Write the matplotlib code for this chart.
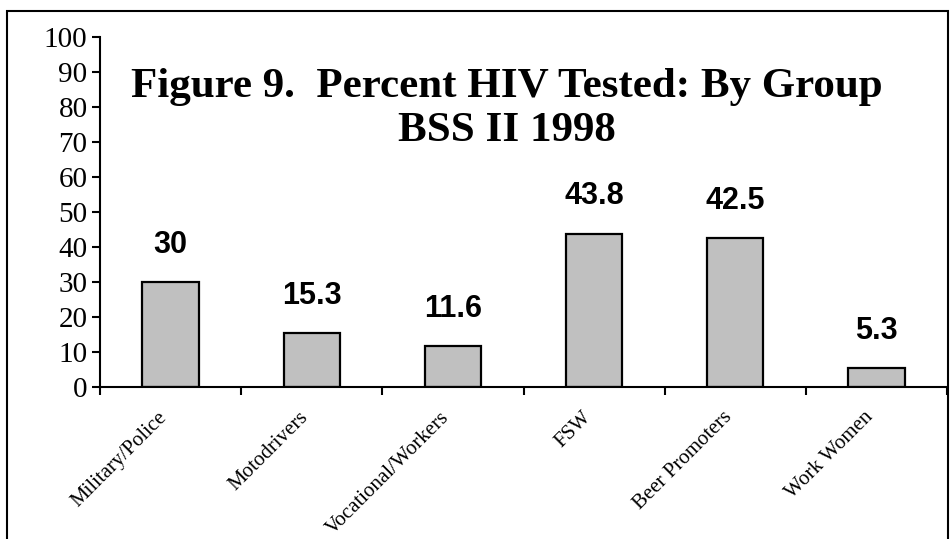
import numpy as np
import matplotlib
matplotlib.use("Agg")
import matplotlib.pyplot as plt
from matplotlib.patches import Rectangle

# data
groups = ["Military/Police", "Motodrivers", "Vocational/Workers",
          "FSW", "Beer Promoters", "Work Women"]
pctTested = [30, 15.3, 11.6, 43.8, 42.5, 5.3]
valueLabels = ["30", "15.3", "11.6", "43.8", "42.5", "5.3"]
yTicks = np.arange(0, 101, 10)

serif = ["Liberation Serif", "DejaVu Serif"]
sans = ["Liberation Sans", "DejaVu Sans"]

fig = plt.figure(figsize=(9.51, 5.39), dpi=100)
# outer chart border (open at the bottom, like the reference crop)
fig.patches.append(Rectangle((7/951, -0.05), 941/951, 1.05 - 11/539,
                             transform=fig.transFigure, fill=False,
                             edgecolor="black", linewidth=1.5))
ax = fig.add_axes([100/951, 1 - 387/539, 847/951, 350/539])

x = np.arange(len(groups)) + 0.5
ax.bar(x, pctTested, width=0.4, color="#C0C0C0", edgecolor="black",
       linewidth=1.6, zorder=2)
for xi, yi, lab in zip(x, pctTested, valueLabels):
    ax.annotate(lab, (xi, yi), xytext=(0, 16), textcoords="offset points",
                ha="center", va="bottom", fontsize=22, fontweight="bold",
                family=sans)

ax.set_xlim(0, len(groups))
ax.set_ylim(0, 100)
ax.set_yticks(yTicks)
ax.set_yticklabels([str(t) for t in yTicks], family=serif, fontsize=21)
ax.set_xticks(np.arange(len(groups) + 1))
ax.set_xticklabels([])
# slanted labels sit a little left of the bar centres in the reference
ax.set_xticks(x - 0.09, minor=True)
ax.set_xticklabels(groups, minor=True, rotation=45, ha="right",
                   rotation_mode="anchor", family=serif, fontsize=15)
ax.tick_params(axis="x", which="minor", length=0, pad=15)
ax.tick_params(axis="x", which="major", direction="out", length=6, width=1.5)
ax.tick_params(axis="y", direction="out", length=6, width=1.5, pad=3)
for side in ["top", "right"]:
    ax.spines[side].set_visible(False)
for side in ["left", "bottom"]:
    ax.spines[side].set_linewidth(1.5)

ax.text(0.48, 0.795, "Figure 9.  Percent HIV Tested: By Group\nBSS II 1998",
        transform=ax.transAxes, ha="center", va="center", fontsize=31,
        fontweight="bold", family=serif, linespacing=1.2)

fig.savefig("out.png", dpi=100)
